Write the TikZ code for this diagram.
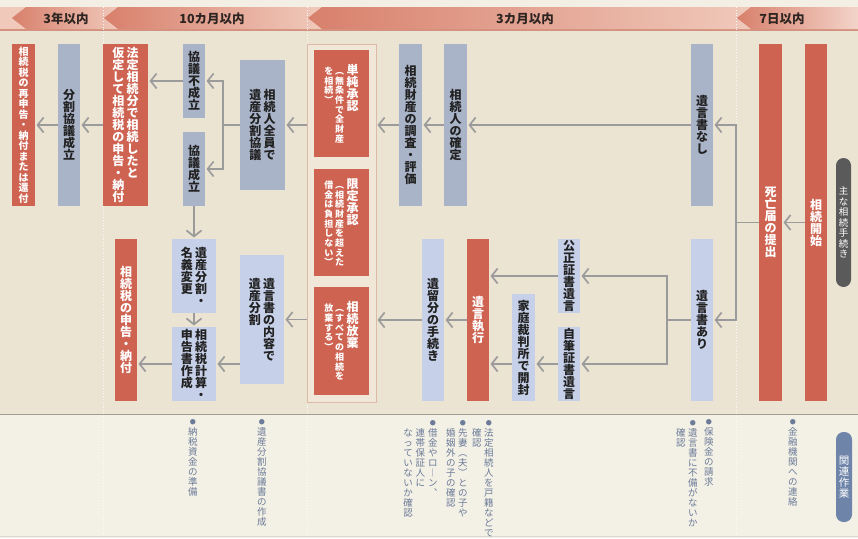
\documentclass[tikz,border=0pt]{standalone}
\usepackage{fontspec}
\setmainfont{Noto Sans CJK JP}
\usetikzlibrary{positioning,arrows.meta,calc}
\definecolor{procred}{HTML}{CF6351}
\definecolor{procgrey}{HTML}{AAB4C9}
\definecolor{procblue}{HTML}{C6D0E9}
\definecolor{inkdark}{HTML}{222222}
\definecolor{inkband}{HTML}{2E2522}
\definecolor{ground}{HTML}{EBE4D3}
\definecolor{groundtop}{HTML}{F3EFE5}
\definecolor{groundlight}{HTML}{F3F0E6}
\definecolor{bandpale}{HTML}{F0C9BB}
\definecolor{banddeep}{HTML}{D8806C}
\definecolor{bandline}{HTML}{D4917F}
\definecolor{flowgrey}{HTML}{9B9B9B}
\definecolor{notegrey}{HTML}{6B7B98}
\definecolor{framepink}{HTML}{DDB9A7}
\definecolor{framefill}{HTML}{F0E7D8}
\definecolor{pillgrey}{HTML}{5A5A5A}
\definecolor{pillblue}{HTML}{6E84A9}
\definecolor{edgegrey}{HTML}{A59D91}

% vertical (tategaki) columns: \vt[step]{{col1}{col2}...}, first column rightmost
\makeatletter
\newbox\vt@acc
\def\vt@w{1em}
\def\vt@gap{.18em}
\newcommand\vtgap[1]{\def\vt@gap{#1}}
\def\vt@cell#1{\hbox to\vt@w{\hss#1\hss}}
\def\vt@one#1{\vtop{\baselineskip=\vt@step\relax\lineskiplimit=-100pt\relax
  \lineskip=0pt\relax\@tfor\vc@ch:=#1\do{\vt@cell{\vc@ch}}}}
\newcommand\vt[2][1em]{\def\vt@step{#1}%
  \setbox\vt@acc\hbox{}%
  \@tfor\vt@col:=#2\do{%
    \setbox\vt@acc\hbox{\expandafter\vt@one\expandafter{\vt@col}%
      \ifdim\wd\vt@acc>\z@\hskip\vt@gap\fi\unhbox\vt@acc}}%
  \box\vt@acc}
\makeatother
\newcommand\vbul{\raise1.3pt\hbox{\fontsize{6}{6}\selectfont ●}}
\newcommand\vblank{\phantom{あ}}

\begin{document}
\begin{tikzpicture}[x=1pt, y=-1pt,
  proc/.style={anchor=north west, inner sep=0pt, outer sep=0pt,
               font=\fontsize{12}{12}\selectfont\bfseries},
  redbox/.style={proc, fill=procred, text=white},
  greybox/.style={proc, fill=procgrey, text=inkdark},
  bluebox/.style={proc, fill=procblue, text=inkdark},
  sz/.style 2 args={minimum width=#1pt, minimum height=#2pt},
  flow/.style={draw=flowgrey, line width=1.7pt, shorten >=1.5pt,
               -{Straight Barb[length=6pt, width=15pt]}},
  link/.style={draw=flowgrey, line width=1.7pt},
  period/.style={font=\fontsize{12.5}{12.5}\selectfont\bfseries, text=inkband},
  note/.style={anchor=north east, inner sep=0pt, text=notegrey,
               font=\fontsize{9.5}{10}\selectfont},
  small/.style={font=\fontsize{9}{9}\selectfont\bfseries},
  pill/.style={rounded corners=7.5pt, inner sep=0pt, text=white}
]
\useasboundingbox (0,0) rectangle (858,538);
% ground
\fill[groundtop] (0,0) rectangle (858,7);
\fill[bandpale] (0,7) rectangle (858,29);
\fill[bandline] (0,29) rectangle (858,31);
\fill[ground] (0,31) rectangle (858,414);
\fill[groundlight] (0,414) rectangle (858,538);
\draw[edgegrey, line width=1pt] (0,414.5) -- (858,414.5);
\draw[edgegrey!40, line width=1pt] (0,536.5) -- (858,536.5);

% time band
\shade[left color=banddeep, right color=bandpale] (12,18) -- (26,7) -- (119,7) -- (119,29) -- (26,29) -- cycle;
\shade[left color=banddeep, right color=bandpale] (104,18) -- (118,7) -- (322,7) -- (322,29) -- (118,29) -- cycle;
\shade[left color=banddeep, right color=bandpale] (308,18) -- (322,7) -- (751,7) -- (751,29) -- (322,29) -- cycle;
\shade[left color=banddeep, right color=bandpale!80!white] (737,18) -- (751,7) -- (858,7) -- (858,29) -- (751,29) -- cycle;
\foreach \sx in {103,307,736}
  \draw[white, dotted, line width=0.8pt, opacity=0.85] (\sx,7) -- (\sx,536);
\node[period] (p3y) at (66,18.5) {3年以内};
\node[period] (p10m) at (212,18.5) {10カ月以内};
\node[period] (p3m) at (525,18.5) {3カ月以内};
\node[period] (p7d) at (782,18.5) {7日以内};

% side labels
\node[pill, fill=pillgrey, sz={15}{129}, font=\fontsize{9.5}{10}\selectfont] (mainlbl) at (843.5,222.5) {\vt[1.1em]{{主な相続手続き}}};
\node[pill, fill=pillblue, sz={16}{90}, font=\fontsize{10.5}{11}\selectfont] (sublbl) at (844,477) {\vt[1.05em]{{関連作業}}};

% right: start and will
\node[redbox, sz={22}{357}] (kaishi) at (805,44) {\vt{{相続開始}}};
\node[redbox, sz={23}{357}] (shibou) at (759,44) {\vt{{死亡届の提出}}};
\node[greybox, sz={22}{162}] (nashi) at (691,44) {\vt{{遺言書なし}}};
\node[bluebox, sz={22}{162}] (ari) at (691,239) {\vt{{遺言書あり}}};
\node[bluebox, sz={22}{74}] (kousei) at (558,239) {\vt{{公正証書遺言}}};
\node[bluebox, sz={22}{74}] (jihitsu) at (558,327) {\vt{{自筆証書遺言}}};
\node[bluebox, sz={23}{107}] (kaitei) at (512,294) {\vt{{家庭裁判所で開封}}};
\node[redbox, sz={22}{162}] (shikkou) at (467,239) {\vt{{遺言執行}}};
\node[bluebox, sz={22}{162}] (iryuubun) at (422,239) {\vt{{遺留分の手続き}}};
\node[greybox, sz={23}{162}] (kakutei) at (444,44) {\vt{{相続人の確定}}};
\node[greybox, sz={23}{162}] (chousa) at (399,44) {\vt{{相続財産の調査・評価}}};

% middle: accept or renounce
\node[proc, draw=framepink, fill=framefill, line width=0.8pt, sz={69}{358}] (frame) at (307,44) {};
\node[redbox, sz={55}{107}] (tanjun) at (314,50) {{\fontsize{9}{9}\selectfont\vt[9.7pt]{{︵無条件で全財産}{を相続︶}}}\hskip2.5pt\vt{{単純承認}}};
\node[redbox, sz={55}{107}] (gentei) at (314,169) {{\fontsize{9}{9}\selectfont\vt[9.7pt]{{︵相続財産を超えた}{借金は負担しない︶}}}\hskip2.5pt\vt{{限定承認}}};
\node[redbox, sz={55}{108}] (houki) at (314,287) {{\fontsize{9}{9}\selectfont\vt[9.7pt]{{︵すべての相続を}{放棄する︶}}}\hskip2.5pt\vt{{相続放棄}}};

% left: division and tax
\node[greybox, sz={45}{130}] (zenin) at (240,60) {\vt{{相続人全員で}{遺産分割協議}}};
\node[bluebox, sz={44}{129}] (naiyou) at (240,255) {\vt{{遺言書の内容で}{遺産分割}}};
\node[greybox, sz={22}{74}] (fuseiritsu) at (183,44) {\vt{{協議不成立}}};
\node[greybox, sz={22}{74}] (seiritsu) at (183,132) {\vt{{協議成立}}};
\node[bluebox, sz={44}{74}] (meigi) at (172,239) {\vt{{遺産分割・}{名義変更}}};
\node[bluebox, sz={44}{74}] (keisan) at (172,327) {\vt{{相続税計算・}{申告書作成}}};
\node[redbox, sz={45}{162}] (houtei) at (103,44) {\vt{{法定相続分で相続したと}{仮定して相続税の申告・納付}}};
\node[redbox, sz={22}{162}] (shinkoku) at (115,239) {\vt{{相続税の申告・納付}}};
\node[greybox, sz={22}{162}] (bunkatsu) at (58,44) {\vt{{分割協議成立}}};
\node[redbox, sz={23}{162}, font=\fontsize{10}{10}\selectfont\bfseries] (saishinkoku) at (12,44) {\vt[10.5pt]{{相続税の再申告・納付または還付}}};

% flow
\draw[flow] (kaishi) -- (shibou);
\coordinate[left=23pt of shibou.west] (j1);
\draw[link] (shibou) -- (j1);
\draw[flow] (j1) |- (nashi);
\draw[flow] (j1) |- (ari);
\draw[flow] (nashi) -- (kakutei);
\draw[flow] (kakutei) -- (chousa);
\draw[flow] (chousa) -- (chousa -| frame.east);
\draw[flow] (zenin -| frame.west) -- (zenin);
\coordinate[left=17pt of zenin.west] (j2);
\draw[link] (zenin) -- (j2);
\draw[flow] (j2) |- (fuseiritsu);
\draw[flow] (j2) |- (seiritsu);
\draw[flow] (fuseiritsu) -- (fuseiritsu -| houtei.east);
\draw[flow] (houtei) -- (bunkatsu);
\draw[flow] (bunkatsu) -- (saishinkoku);
\draw[flow] (seiritsu) -- (meigi);
\draw[flow] (meigi) -- (keisan);
\coordinate[left=24pt of ari.west] (j3);
\draw[link] (ari) -- (j3);
\draw[flow] (j3) |- (kousei);
\draw[flow] (j3) |- (jihitsu);
\draw[flow] (kousei) -- (kousei -| shikkou.east);
\draw[flow] (jihitsu) -- (jihitsu -| kaitei.east);
\draw[flow] (jihitsu -| kaitei.west) -- (jihitsu -| shikkou.east);
\draw[flow] (shikkou) -- (iryuubun);
\draw[flow] (iryuubun) -- (iryuubun -| frame.east);
\draw[flow] (naiyou -| frame.west) -- (naiyou);
\draw[flow] (keisan -| naiyou.west) -- (keisan);
\draw[flow] (keisan) -- (keisan -| shinkoku.east);

% related tasks
\node[note] (nzei) at (197.75,419) {\vt[1.05em]{{\vbul 納税資金の準備}}};
\node[note] (nsho) at (266.75,419) {\vt[1.05em]{{\vbul 遺産分割協議書の作成}}};
\node[note] (nkoseki) at (493.75,419) {\vtgap{.26em}\vt[1.05em]{{\vbul 法定相続人を戸籍などで}{\vblank 確認}}};
\node[note] (nko) at (467.75,419) {\vtgap{.26em}\vt[1.05em]{{\vbul 先妻︵夫︶との子や}{\vblank 婚姻外の子の確認}}};
\node[note] (nshakkin) at (437.75,419) {\vtgap{.3em}\vt[1.05em]{{\vbul 借金やロ︱ン︑}{\vblank 連帯保証人に}{\vblank なっていないか確認}}};
\node[note] (nhoken) at (713.75,419) {\vt[1.05em]{{\vbul 保険金の請求}}};
\node[note] (nfubi) at (697.75,419) {\vtgap{.26em}\vt[1.05em]{{\vbul 遺言書に不備がないか}{\vblank 確認}}};
\node[note] (nkinyu) at (797.75,419) {\vt[1.05em]{{\vbul 金融機関への連絡}}};
\end{tikzpicture}
\end{document}
